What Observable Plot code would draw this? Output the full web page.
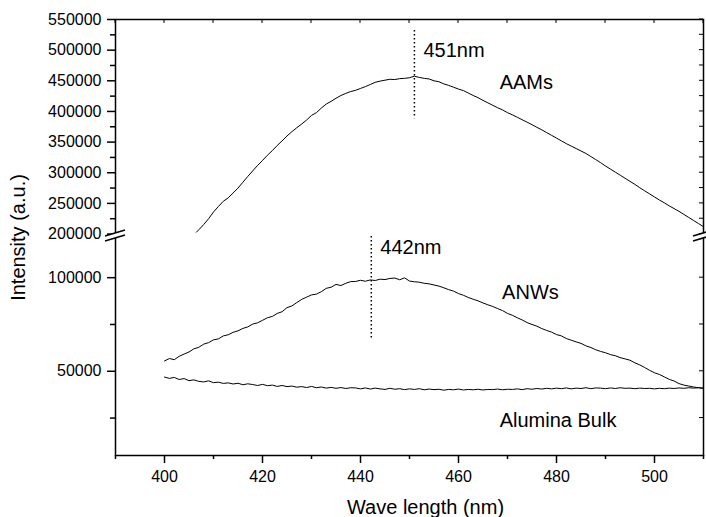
<!DOCTYPE html>
<html><head><meta charset="utf-8">
<script src="https://cdn.jsdelivr.net/npm/d3@7"></script>
<script src="https://cdn.jsdelivr.net/npm/@observablehq/plot@0.6"></script>
<style>body{margin:0;background:#fff} svg{display:block}</style>
</head><body><div id="chart"></div>
<script>
// ---- data ----
const aamsWavelength = [406.5, ...d3.range(407, 511)];
const aamsIntensity = [203000,207000,215500,225000,236000,245000,253500,259000,267000,275000,
284500,294000,303000,312000,320000,328500,336000,344500,352000,360000,
367000,373500,379500,386000,393500,398000,405500,412000,416500,421500,
426000,429500,432500,434500,437500,440500,444000,447500,449500,451000,
452500,452000,453500,454000,455000,457500,455500,454000,453000,450000,
448500,445000,442500,439500,436500,434000,430000,426000,422500,418000,
414000,410000,406000,402500,398000,394500,390500,386500,382500,378500,
374000,370000,365500,361000,356500,352000,347500,343500,339500,335500,
331500,326500,321500,316500,311000,306000,301000,296000,291000,286000,
281000,275500,270500,265500,260500,255500,251000,246000,241500,237000,
232000,227000,222000,217000,212000];
const wavelength = d3.range(400, 511);
const anwsIntensity = [55500,56800,56200,58000,59200,60300,62000,62800,64500,65300,
66800,67300,68900,69500,70800,71600,72900,73700,75200,75900,
77200,78600,79300,80900,81800,84000,84900,86700,88400,89600,
90800,91200,92500,94300,94900,96400,95800,97000,97900,98000,
98600,98100,98800,98500,99200,99000,99600,99800,98900,99900,
98200,97800,97600,97000,96700,96100,95500,94600,93600,92800,
91500,90600,89400,88500,87600,86500,85500,84600,83500,82400,
80900,79900,78600,77400,76000,75000,74100,72800,71800,70900,
69600,68900,67500,66600,65700,64900,63600,62700,61500,60600,
59900,58900,58300,57300,56600,55900,54500,53400,52000,50500,
49200,48300,47000,45700,44800,43400,42600,42100,41600,41200,40900];
const bulkIntensity = [46900,46200,46700,45600,46100,45000,45400,44600,44300,44900,
43900,44200,43500,43800,43200,43600,42800,43300,42900,42400,
43000,42300,42600,41900,42400,41800,42100,41500,41800,41300,
41900,41200,41600,41000,41400,40900,41300,40800,41200,41100,
40600,41100,40500,41000,40600,40300,40900,40400,40700,40200,
40600,40300,40700,40100,40500,40200,40400,39900,40300,40100,
40500,40000,40300,40100,40400,40000,40300,40200,40500,40100,
40400,40300,40600,40200,40700,40400,40800,40500,40900,40600,
41000,40700,41100,40600,41000,40800,41200,40700,41100,41000,
40700,41100,40800,41200,40900,41000,40700,41000,40800,40900,
40600,40900,40700,41000,40800,41100,40900,41200,41000,41200,41000];

const xDomain = [390, 510];
const xMajorTicks = [400, 420, 440, 460, 480, 500];
const xMinorTicks = [390, 410, 430, 450, 470, 490, 510];
const xTopTicks = d3.range(390, 511, 10);
// broken y axis: lower part, gap, upper part
const yDomain = [5000, 122000, 196000, 550000];
const yMajorTicks = [50000, 100000, 200000, 250000, 300000, 350000, 400000, 450000, 500000, 550000];
const yMinorTicks = [25000, 75000, 225000, 275000, 325000, 375000, 425000, 475000, 525000];
const breakValue = 196000;

const peaks = [
  {x: 451, y1: 532000, y2: 388000, label: "451nm", ly: 499000},
  {x: 442.2, y1: 122000, y2: 67000, label: "442nm", ly: 116000}
];
const seriesLabels = [
  {x: 468.4, y: 447000, text: "AAMs"},
  {x: 468.9, y: 92200, text: "ANWs"},
  {x: 468.4, y: 23700, text: "Alumina Bulk"}
];

const data = [
  ...aamsWavelength.map((w, i) => ({w, v: aamsIntensity[i], s: "AAMs"})),
  ...wavelength.map((w, i) => ({w, v: anwsIntensity[i], s: "ANWs"})),
  ...wavelength.map((w, i) => ({w, v: bulkIntensity[i], s: "Bulk"}))
];

// inward ticks on the top and right edges of the frame
function mirrorTicks(index, scales) {
  const g = d3.create("svg:g").attr("stroke", "black").attr("stroke-width", 1);
  const xr = scales.x(xDomain[1]);
  const yt = scales.y(yDomain[yDomain.length - 1]);
  for (const t of [...yMajorTicks, ...yMinorTicks]) {
    const y = scales.y(t);
    g.append("line").attr("x1", xr).attr("x2", xr - 4).attr("y1", y).attr("y2", y);
  }
  for (const t of xTopTicks) {
    const x = scales.x(t);
    g.append("line").attr("x1", x).attr("x2", x).attr("y1", yt).attr("y2", yt + 4);
  }
  return g.node();
}

function breakMarks(index, scales) {
  const g = d3.create("svg:g");
  const yb = scales.y(breakValue) - 1;
  for (const xv of xDomain) {
    const x = scales.x(xv);
    g.append("polygon")
      .attr("points", `${x-10},${yb+1} ${x+10},${yb-5} ${x+10},${yb} ${x-10},${yb+6}`)
      .attr("fill", "white");
    g.append("line").attr("x1", x-10).attr("y1", yb+1).attr("x2", x+10).attr("y2", yb-5)
      .attr("stroke", "black").attr("stroke-width", 1.5);
    g.append("line").attr("x1", x-10).attr("y1", yb+6).attr("x2", x+10).attr("y2", yb)
      .attr("stroke", "black").attr("stroke-width", 1.5);
  }
  return g.node();
}

const W = 706, H = 517;
const chart = Plot.plot({
  width: W, height: H,
  marginLeft: 115, marginRight: 3, marginTop: 19, marginBottom: 62,
  style: {fontFamily: "'Liberation Sans', Arial, sans-serif", fontSize: "16px", color: "black", background: "white"},
  x: {domain: xDomain, axis: null},
  y: {type: "linear", domain: yDomain, range: [455, 236, 236, 19], axis: null},
  marks: [
    Plot.line(data, {x: "w", y: "v", z: "s", stroke: "black", strokeWidth: 1}),
    Plot.ruleX(peaks, {x: "x", y1: "y1", y2: "y2", stroke: "black", strokeWidth: 1.5, strokeDasharray: "1.5,2.5"}),
    Plot.text(peaks, {x: "x", y: "ly", text: "label", textAnchor: "start", dx: 9, fontSize: 20}),
    Plot.text(seriesLabels, {x: "x", y: "y", text: "text", textAnchor: "start", fontSize: 20}),
    Plot.axisY(yMajorTicks, {anchor: "left", tickSize: 8, tickPadding: 6, fontSize: 16, label: null, strokeWidth: 1.5, tickFormat: d => String(d)}),
    Plot.axisY(yMinorTicks, {anchor: "left", tickSize: 5, label: null, strokeWidth: 1.5, tickFormat: () => ""}),
    Plot.axisX(xMajorTicks, {anchor: "bottom", tickSize: 8, tickPadding: 7, fontSize: 16, label: null, strokeWidth: 1.5}),
    Plot.axisX(xMinorTicks, {anchor: "bottom", tickSize: 4, label: null, strokeWidth: 1.5, tickFormat: () => ""}),
    mirrorTicks,
    Plot.frame({stroke: "black", strokeWidth: 1.5}),
    breakMarks,
    Plot.text(["Intensity (a.u.)"], {frameAnchor: "left", textAnchor: "middle", lineAnchor: "middle", rotate: -90, dx: -97, fontSize: 20}),
    Plot.text(["Wave length (nm)"], {frameAnchor: "bottom", textAnchor: "middle", lineAnchor: "middle", dx: 16, dy: 52, fontSize: 20})
  ]
});
document.getElementById("chart").appendChild(chart);
</script>
</body></html>
